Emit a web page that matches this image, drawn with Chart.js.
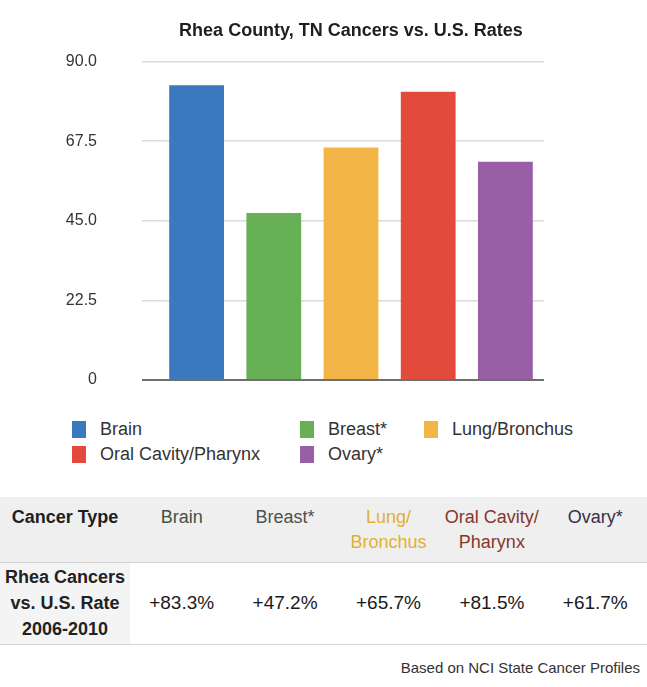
<!DOCTYPE html>
<html>
<head>
<meta charset="utf-8">
<script src="https://cdn.jsdelivr.net/npm/chart.js@4/dist/chart.umd.min.js"></script>
<style>
body{margin:0;background:#fff;width:647px;height:687px;position:relative;overflow:hidden;
font-family:"Liberation Sans",Arial,sans-serif;}
#cancerChart{position:absolute;left:0;top:0;}
#legend{position:absolute;left:72px;top:420px;display:grid;
grid-template-columns:228px 124px auto;row-gap:7px;font-size:18px;color:#333;}
#legend .item{display:flex;align-items:center;height:18px;}
#legend .sw{width:14px;height:17px;margin-right:14px;}
#rates{position:absolute;left:0;top:497px;width:647px;border-collapse:collapse;table-layout:fixed;}
#rates td{text-align:center;padding:0;font-size:18px;}
#rates tr.head td{background:#efefef;height:65px;line-height:25px;vertical-align:top;padding-top:8px;box-sizing:border-box;border-bottom:1px solid #d4d4d4;}
#rates tr.head td.first{font-weight:bold;}
#rates tr.vals td{height:81px;color:#222;border-bottom:1px solid #d8d8d8;}
#rates tr.vals td.first{background:#f4f4f4;font-weight:bold;line-height:26px;}
#rates tr.vals td.num{font-size:19px;color:#1a1a1a;}
#note{position:absolute;right:7px;top:659px;font-size:15px;color:#333;}
</style>
</head>
<body>
<canvas id="cancerChart" width="647" height="390"></canvas>
<div id="legend"></div>
<table id="rates"></table>
<div id="note">Based on NCI State Cancer Profiles</div>
<script>

/* ---------- data ---------- */

const categories = ["Brain","Breast*","Lung/Bronchus","Oral Cavity/Pharynx","Ovary*"]
const headerLabels = ["Brain","Breast*","Lung/<br>Bronchus","Oral Cavity/<br>Pharynx","Ovary*"]
const rateAboveUS = [83.3,47.2,65.7,81.5,61.7]
const yTicks = [0,22.5,45,67.5,90]

const barColors = ["#3a79bd","#68b055","#f3b646","#e24a3c","#985fa6"]
const headColors = ["#3f5245","#505050","#e3b032","#85372a","#392e46"]

const font = "'Liberation Sans',Arial,sans-serif"


/* ---------- bar chart ---------- */

const cancerChart = new Chart(
document.getElementById("cancerChart"),
{
type:"bar",

data:{
labels:categories,
datasets:[
{
data:rateAboveUS,
backgroundColor:barColors,
borderWidth:0,
barPercentage:0.71,
categoryPercentage:1
}
]
},

options:{
animation:false,
responsive:false,
layout:{padding:{left:55,right:0,top:0,bottom:10}},

plugins:{
legend:{display:false},
tooltip:{enabled:false},
title:{
display:true,
text:"Rhea County, TN Cancers vs. U.S. Rates",
color:"#1e1e1e",
font:{family:font,size:18,weight:"bold"},
padding:{top:20,bottom:20}
}
},

scales:{
x:{display:false},
y:{
min:0,
max:90,
afterBuildTicks:axis=>{axis.ticks=yTicks.map(v=>({value:v}))},
// fixed axis width; the wide label gap should not eat vertical space
afterFit:axis=>{
axis.width=103
axis.paddingTop=0
axis.paddingBottom=0
},
border:{display:false},
grid:{
tickLength:16,
color:ctx=>ctx.tick && ctx.tick.value===0 ? "#6f6f6f" : "#dadada",
lineWidth:ctx=>ctx.tick && ctx.tick.value===0 ? 2 : 1.5
},
ticks:{
padding:45,
color:"#333",
font:{family:font,size:16},
callback:v=>v===0 ? "0" : v.toFixed(1)
}
},
yRight:{
position:"right",
min:0,
max:90,
afterFit:axis=>{
axis.width=103
axis.paddingTop=0
axis.paddingBottom=0
},
border:{display:false},
grid:{display:false},
ticks:{display:false}
}
}
}
})


/* ---------- legend ---------- */

const legend = document.getElementById("legend")

categories.forEach((c,i)=>{
legend.innerHTML+=`<div class="item"><span class="sw" style="background:${barColors[i]}"></span>${c}</div>`
})


/* ---------- rates table ---------- */

const table = document.getElementById("rates")

let head = `<tr class="head"><td class="first" style="color:#1e1e1e;width:130px">Cancer Type</td>`
headerLabels.forEach((h,i)=>{
head+=`<td style="color:${headColors[i]}">${h}</td>`
})
head+="</tr>"

let vals = `<tr class="vals"><td class="first">Rhea Cancers<br>vs. U.S. Rate<br>2006-2010</td>`
rateAboveUS.forEach(v=>{
vals+=`<td class="num">+${v.toFixed(1)}%</td>`
})
vals+="</tr>"

table.innerHTML=head+vals

</script>
</body>
</html>
